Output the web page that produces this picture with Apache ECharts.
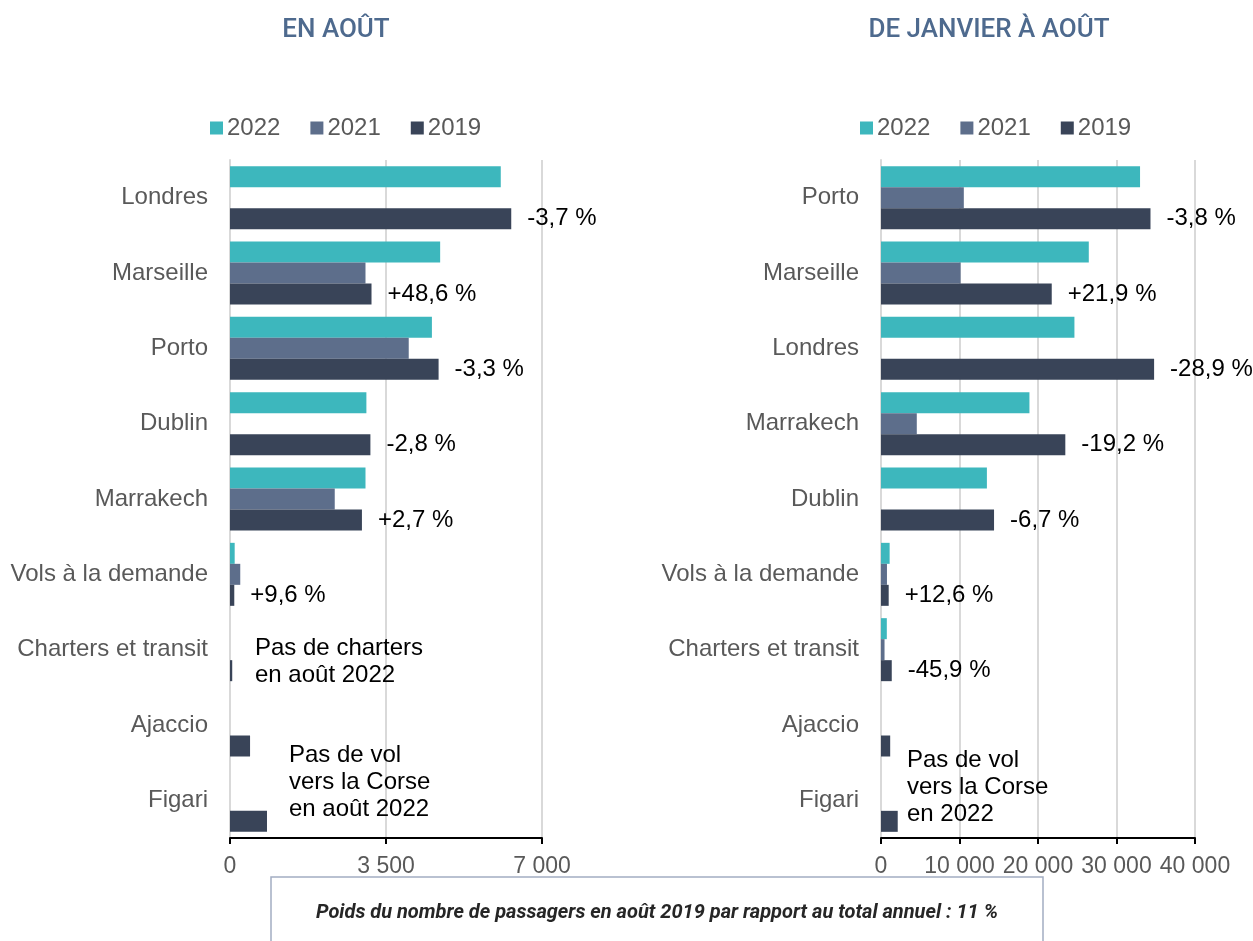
<!DOCTYPE html>
<html>
<head>
<meta charset="utf-8">
<script src="https://cdn.jsdelivr.net/npm/echarts@6/dist/echarts.min.js"></script>
<style>
  html, body { margin: 0; padding: 0; background: #fff; }
  #chart { width: 1253px; height: 941px; }
</style>
</head>
<body>
<div id="chart"></div>
<script>
// données : août
const aoutCategories = ['Londres', 'Marseille', 'Porto', 'Dublin', 'Marrakech', 'Vols à la demande', 'Charters et transit', 'Ajaccio', 'Figari']
const aout2022 = [6075, 4715, 4530, 3060, 3040, 105, null, null, null]
const aout2021 = [null, 3040, 4010, null, 2350, 230, null, null, null]
const aout2019 = [6310, 3175, 4680, 3150, 2960, 96, 50, 450, 830]
const aoutEvolution = ['-3,7 %', '+48,6 %', '-3,3 %', '-2,8 %', '+2,7 %', '+9,6 %', '', '', '']
const aoutMax = 7000
const aoutInterval = 3500

// données : janvier à août
const cumulCategories = ['Porto', 'Marseille', 'Londres', 'Marrakech', 'Dublin', 'Vols à la demande', 'Charters et transit', 'Ajaccio', 'Figari']
const cumul2022 = [33000, 26470, 24640, 18910, 13490, 1100, 740, null, null]
const cumul2021 = [10550, 10140, null, 4560, null, 760, 450, null, null]
const cumul2019 = [34330, 21750, 34790, 23480, 14400, 980, 1370, 1170, 2130]
const cumulEvolution = ['-3,8 %', '+21,9 %', '-28,9 %', '-19,2 %', '-6,7 %', '+12,6 %', '-45,9 %', '', '']
const cumulMax = 40000
const cumulInterval = 10000

const years = ['2022', '2021', '2019']
const colors = ['#3db7bd', '#5d6e8b', '#394458']
const FONT = '"Liberation Sans", Arial, sans-serif'
const GREY = '#595959'

// séparateur de milliers à la française
const fmt = v => String(v).replace(/\B(?=(\d{3})+(?!\d))/g, ' ')

const chart = echarts.init(document.getElementById('chart'), null, { renderer: 'canvas' })

function makeSeries(idx, data2022, data2021, data2019, evol) {
  const base = { type: 'bar', xAxisIndex: idx, yAxisIndex: idx, barWidth: 21, barGap: '0%' }
  return [
    { ...base, name: years[0], data: data2022, itemStyle: { color: colors[0] } },
    { ...base, name: years[1], data: data2021, itemStyle: { color: colors[1] } },
    {
      ...base, name: years[2], data: data2019, itemStyle: { color: colors[2] },
      label: {
        show: true, position: 'right', distance: 16,
        fontFamily: FONT, fontSize: 24, color: '#000',
        formatter: p => evol[p.dataIndex]
      }
    }
  ]
}

function xAxis(idx, max, interval) {
  return {
    type: 'value', gridIndex: idx, min: 0, max: max, interval: interval,
    axisLine: { show: true, lineStyle: { color: '#000', width: 2 } },
    axisTick: { show: true, length: 6, lineStyle: { color: '#000', width: 2 } },
    axisLabel: { margin: 17, fontFamily: FONT, fontSize: 23, color: GREY, formatter: fmt },
    splitLine: { show: true, lineStyle: { color: '#d9d9d9', width: 2 } }
  }
}

function yAxis(idx, cats) {
  return {
    type: 'category', gridIndex: idx, inverse: true, data: cats,
    axisLine: { show: true, lineStyle: { color: '#d9d9d9', width: 2 } },
    axisTick: { show: false },
    axisLabel: { margin: 22, fontFamily: FONT, fontSize: 24, color: GREY }
  }
}

function legend(left) {
  return {
    left: left, top: 111, icon: 'rect', itemWidth: 13, itemHeight: 13, itemGap: 30,
    data: years,
    textStyle: { fontFamily: FONT, fontSize: 24, color: GREY, padding: [0, 0, 0, -1] }
  }
}

const annot = (x, y, text) => ({
  type: 'text', x: x, y: y, z: 10,
  style: { text: text, fontFamily: FONT, fontSize: 24, lineHeight: 27, fill: '#000', verticalAlign: 'top' }
})

chart.setOption({
  animation: false,
  legend: [legend(205), legend(855)],
  grid: [
    { left: 230, top: 160, width: 312, height: 678 },
    { left: 881, top: 160, width: 314, height: 678 }
  ],
  xAxis: [xAxis(0, aoutMax, aoutInterval), xAxis(1, cumulMax, cumulInterval)],
  yAxis: [yAxis(0, aoutCategories), yAxis(1, cumulCategories)],
  series: [
    ...makeSeries(0, aout2022, aout2021, aout2019, aoutEvolution),
    ...makeSeries(1, cumul2022, cumul2021, cumul2019, cumulEvolution)
  ],
  graphic: [
    {
      type: 'text', x: 336, y: 30,
      style: { text: 'EN AOÛT', fontFamily: 'Roboto', fontWeight: 500, fontSize: 26, fill: '#4e6a8e', align: 'center', verticalAlign: 'middle' }
    },
    {
      type: 'text', x: 989, y: 30,
      style: { text: 'DE JANVIER À AOÛT', fontFamily: 'Roboto', fontWeight: 500, fontSize: 26, fill: '#4e6a8e', align: 'center', verticalAlign: 'middle' }
    },
    annot(255, 635, 'Pas de charters\nen août 2022'),
    annot(289, 742, 'Pas de vol\nvers la Corse\nen août 2022'),
    annot(907, 747, 'Pas de vol\nvers la Corse\nen 2022'),
    {
      type: 'rect', shape: { x: 271, y: 877, width: 772, height: 90 },
      style: { fill: 'none', stroke: '#a3adc2', lineWidth: 1.5 }
    },
    {
      type: 'text', x: 657, y: 913,
      style: {
        text: 'Poids du nombre de passagers en août 2019 par rapport au total annuel : 11 %',
        fontFamily: 'Roboto', fontStyle: 'italic', fontWeight: 'bold', fontSize: 20,
        fill: '#262626', align: 'center', verticalAlign: 'middle'
      }
    }
  ]
})
</script>
</body>
</html>
